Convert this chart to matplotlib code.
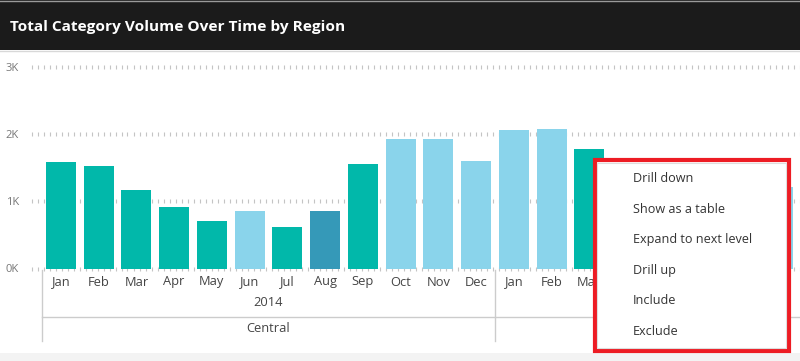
import matplotlib
matplotlib.use("Agg")
import matplotlib.pyplot as plt
import numpy as np
from matplotlib.patches import Rectangle
from matplotlib.lines import Line2D
import matplotlib.transforms as mtrans

# ---------------- data ----------------
months = ["Jan", "Feb", "Mar", "Apr", "May", "Jun", "Jul", "Aug", "Sep", "Oct", "Nov", "Dec",
          "Jan", "Feb", "Mar", "Apr", "May", "Jun", "Jul", "Aug"]
volumes = [1590, 1520, 1160, 920, 700, 850, 610, 860, 1550, 1920, 1930, 1600,
           2060, 2080, 1780, None, None, None, None, 1210]
bar_groups = ["a", "a", "a", "a", "a", "b", "a", "c", "a", "b", "b", "b",
              "b", "b", "a", None, None, None, None, "b"]
years = ["2014"]
year_span = [(0, 11)]
regions = ["Central"]
region_span = [(0, 11)]
y_ticks = [0, 1000, 2000, 3000]
y_tick_labels = ["0K", "1K", "2K", "3K"]
title = "Total Category Volume Over Time by Region"
menu_items = ["Drill down", "Show as a table", "Expand to next level", "Drill up", "Include", "Exclude"]

group_colors = {"a": "#01B8AA", "b": "#8AD4EB", "c": "#3599B8"}

# ---------------- figure ----------------
W, H = 800, 361
fig = plt.figure(figsize=(W / 100, H / 100), dpi=100)
fig.patch.set_facecolor("white")
FONT = "Open Sans"

def fy(py):  # pixel from top -> figure fraction
    return 1 - py / H

def fx(px):
    return px / W

# axes geometry (pixels)
ax_left, ax_right = 30, 800
y0_px, y3k_px = 268.5, 66.7
px_per_unit_y = (y0_px - y3k_px) / 3000
ax_top = 60
ymax = 3000 + (y3k_px - ax_top) / px_per_unit_y
cat_w = 37.75
cat_start = 42.0
xmin = -0.5 - (cat_start - ax_left) / cat_w
xmax = xmin + (ax_right - ax_left) / cat_w

ax = fig.add_axes([fx(ax_left), fy(y0_px), fx(ax_right - ax_left), (y0_px - ax_top) / H])
ax.set_xlim(xmin, xmax)
ax.set_ylim(0, ymax)
for s in ax.spines.values():
    s.set_visible(False)
ax.set_facecolor("none")
ax.set_xticks([])
ax.set_yticks(y_ticks)
ax.set_yticklabels(y_tick_labels, fontfamily=FONT, fontsize=8, color="#777777")
ax.tick_params(axis="y", length=0, pad=8)

# dotted gridlines made of short vertical marks
gx = np.arange(1.5, ax_right - ax_left, 6.0) / (ax_right - ax_left)
for t in y_ticks:
    ax.plot(gx, [t] * len(gx), transform=ax.get_yaxis_transform(), ls="none",
            marker="|", markersize=2.4, markeredgewidth=0.8, color="#c4c4c4",
            zorder=0, clip_on=False)

xs = [i for i, v in enumerate(volumes) if v is not None]
hs = [volumes[i] for i in xs]
cs = [group_colors[bar_groups[i]] for i in xs]
ax.bar(xs, hs, width=30 / cat_w, color=cs, zorder=2, edgecolor="none")

# x axis labels (data x, pixel y)
trans = mtrans.blended_transform_factory(ax.transData, fig.transFigure)
for i, m in enumerate(months):
    ax.text(i, fy(282), m, transform=trans, ha="center", va="center",
            fontfamily=FONT, fontsize=9.3, color="#444444", clip_on=False)
for yl, (a, b) in zip(years, year_span):
    ax.text((a + b) / 2, fy(303), yl, transform=trans, ha="center", va="center",
            fontfamily=FONT, fontsize=9.3, color="#444444", clip_on=False)
for rl, (a, b) in zip(regions, region_span):
    ax.text((a + b) / 2, fy(329), rl, transform=trans, ha="center", va="center",
            fontfamily=FONT, fontsize=9.3, color="#444444", clip_on=False)
    for xx in (a - 0.5, b + 0.5):
        ax.add_line(Line2D([xx, xx], [fy(270), fy(341)], transform=trans,
                           color="#cccccc", lw=1, clip_on=False))
ax.add_line(Line2D([-0.5, xmax], [fy(316.5), fy(316.5)], transform=trans,
                   color="#cccccc", lw=1, clip_on=False))

# ---------------- title bar ----------------
fig.add_artist(Rectangle((0, fy(50)), 1, 50 / H, transform=fig.transFigure,
                         facecolor="#1b1b1b", edgecolor="none", zorder=5))
fig.add_artist(Line2D([0, 1], [fy(0.5), fy(0.5)], transform=fig.transFigure,
                      color="#9a9a9a", lw=1, zorder=6))
fig.add_artist(Line2D([0, 1], [fy(50.5), fy(50.5)], transform=fig.transFigure,
                      color="#d8d8d8", lw=1, zorder=6))
fig.text(fx(10), fy(27), title, fontfamily=FONT, fontweight="bold", fontsize=11.1,
         color="white", ha="left", va="center", zorder=7)

# bottom strip
fig.add_artist(Rectangle((0, 0), 1, 8 / H, transform=fig.transFigure,
                         facecolor="#f3f3f3", edgecolor="none", zorder=5))

# ---------------- context menu ----------------
mx0, mx1, my0, my1 = 594.5, 788.5, 160, 350.5
fig.add_artist(Rectangle((fx(mx0), fy(my1)), fx(mx1 - mx0), (my1 - my0) / H,
                         transform=fig.transFigure, facecolor="white",
                         edgecolor="#ED1C24", lw=3.0, zorder=10))
fig.add_artist(Rectangle((fx(mx0 + 2.5), fy(my1 - 2.5)), fx(mx1 - mx0 - 5), (my1 - my0 - 5) / H,
                         transform=fig.transFigure, facecolor="none",
                         edgecolor="#dddddd", lw=0.8, zorder=11))
for k, item in enumerate(menu_items):
    fig.text(fx(633), fy(178.5 + k * 30.6), item, fontfamily=FONT, fontsize=9.1,
             color="#333333", ha="left", va="center", zorder=12)

fig.savefig("out.png", dpi=100, facecolor=fig.get_facecolor())
